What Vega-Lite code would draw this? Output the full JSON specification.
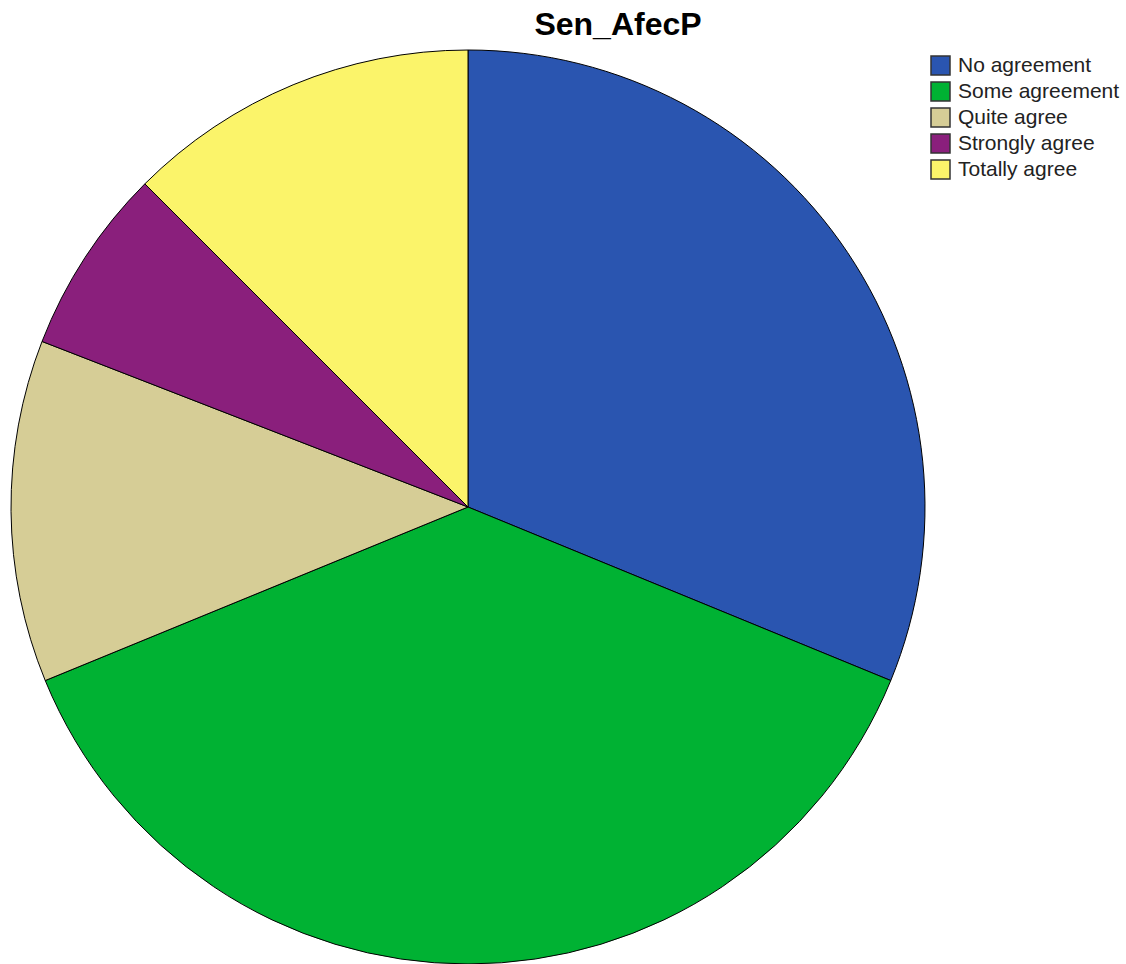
{
  "$schema": "https://vega.github.io/schema/vega-lite/v6.json",
  "autosize": "none",
  "width": 936,
  "height": 916,
  "padding": {"top": 49, "left": 0, "right": 190, "bottom": 0},
  "background": "white",
  "title": {"text": "Sen_AfecP", "font": "Liberation Sans", "fontSize": 32, "fontWeight": "bold", "color": "#000000", "anchor": "middle", "offset": 6, "dx": 150},
  "data": {"values": [
    {"category": "No agreement", "value": 31.2, "ord": 1},
    {"category": "Some agreement", "value": 37.6, "ord": 2},
    {"category": "Quite agree", "value": 12.1, "ord": 3},
    {"category": "Strongly agree", "value": 6.6, "ord": 4},
    {"category": "Totally agree", "value": 12.5, "ord": 5}
  ]},
  "mark": {"type": "arc", "outerRadius": 457, "stroke": "#000000", "strokeWidth": 1},
  "encoding": {
    "theta": {"field": "value", "type": "quantitative", "stack": true},
    "order": {"field": "ord", "type": "quantitative", "sort": "ascending"},
    "color": {
      "field": "category",
      "type": "nominal",
      "sort": ["No agreement", "Some agreement", "Quite agree", "Strongly agree", "Totally agree"],
      "scale": {
        "domain": ["No agreement", "Some agreement", "Quite agree", "Strongly agree", "Totally agree"],
        "range": ["#2a55b0", "#00b233", "#d6cd96", "#8a1f7c", "#fbf46a"]
      },
      "legend": {
        "title": null,
        "orient": "none",
        "legendX": 930,
        "legendY": 6,
        "symbolType": "square",
        "symbolSize": 361,
        "symbolStrokeColor": "#333333",
        "symbolStrokeWidth": 1.5,
        "symbolOpacity": 1,
        "labelFont": "Liberation Sans",
        "labelFontSize": 21,
        "labelColor": "#222222",
        "labelOffset": 7,
        "labelLimit": 200,
        "rowPadding": 1
      }
    }
  },
  "config": {"view": {"stroke": null}}
}
